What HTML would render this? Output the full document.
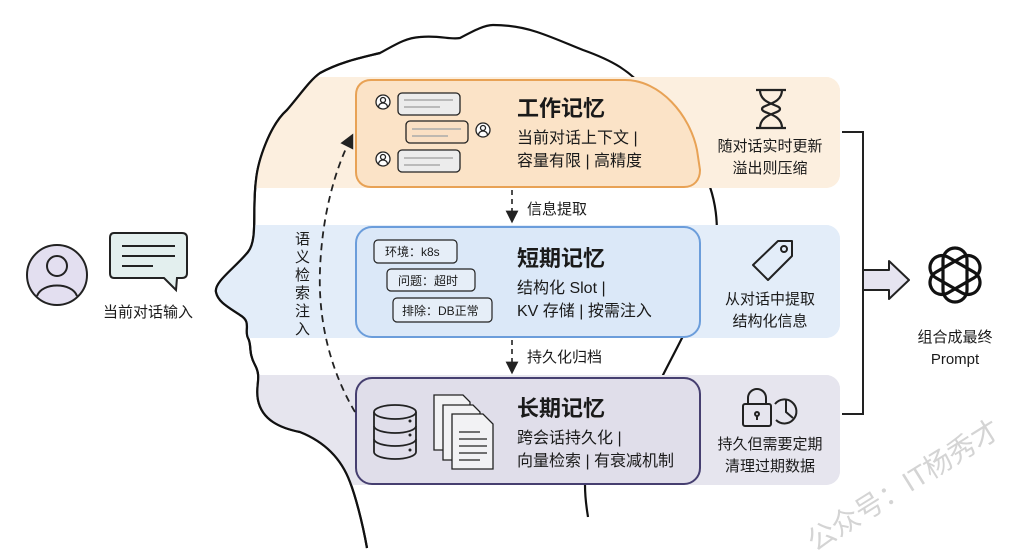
<!DOCTYPE html>
<html><head><meta charset="utf-8"><style>
html,body{margin:0;padding:0;background:#fff;}
svg{display:block;}
text{font-family:"Liberation Sans","Noto Sans CJK SC",sans-serif;fill:#1a1a1a;}
</style></head><body>
<svg width="1024" height="559" viewBox="0 0 1024 559" xmlns="http://www.w3.org/2000/svg">
<defs>
<clipPath id="hc">
<path d="M367,548 C362,520 355,495 350,482 C340,455 320,440 300,432 C280,428 262,420 258,400 C255,385 262,378 255,365 C248,352 252,345 248,338 C244,330 252,322 240,315 C228,307 218,302 216,292 C214,282 235,268 248,252 C258,240 252,210 256,180 C258,160 270,125 287,110 C300,95 310,80 320,73 C340,62 360,58 380,53 C395,45 405,38 420,37 C440,35 450,40 460,38 C475,30 485,25 493,25 C510,25 525,28 537,32 C555,38 570,45 583,50 C600,56 612,62 620,67 C640,80 650,95 653,100 C665,112 680,122 687,133 C700,150 708,170 710,187 C716,205 717,220 717,230 L717,560 L367,560 Z"/>
<rect x="380" y="0" width="480" height="559"/>
</clipPath>
<marker id="ah" markerWidth="8" markerHeight="8" refX="4" refY="4" orient="auto"><path d="M0,0 L8,4 L0,8 Z" fill="#222"/></marker>
</defs>

<!-- head outline (under bands) -->
<path d="M367,548 C362,520 355,495 350,482 C340,455 320,440 300,432 C280,428 262,420 258,400 C255,385 262,378 255,365 C248,352 252,345 248,338 C244,330 252,322 240,315 C228,307 218,302 216,292 C214,282 235,268 248,252 C258,240 252,210 256,180 C258,160 270,125 287,110 C300,95 310,80 320,73 C340,62 360,58 380,53 C395,45 405,38 420,37 C440,35 450,40 460,38 C475,30 485,25 493,25 C510,25 525,28 537,32 C555,38 570,45 583,50 C600,56 612,62 620,67 C640,80 650,95 653,100 C665,112 680,122 687,133 C700,150 708,170 710,187 C716,205 717,220 717,235 C716,270 700,310 682,338 C675,352 668,365 662,377" fill="none" stroke="#111" stroke-width="2.2"/>
<path d="M585,485 C585,500 587,510 588,517" fill="none" stroke="#111" stroke-width="2.2"/>

<!-- bands -->
<g clip-path="url(#hc)">
<rect x="200" y="77" width="640" height="111" rx="14" fill="#fcefdf"/>
<rect x="200" y="225" width="640" height="113" rx="14" fill="#e3edf9"/>
<rect x="200" y="375" width="640" height="110" rx="14" fill="#e6e5ee"/>
</g>
<rect x="700" y="77" width="140" height="111" rx="14" fill="#fcefdf"/>
<rect x="700" y="225" width="140" height="113" rx="14" fill="#e3edf9"/>
<rect x="700" y="375" width="140" height="110" rx="14" fill="#e6e5ee"/>

<!-- left outline redrawn over bands -->
<path d="M367,548 C362,520 355,495 350,482 C340,455 320,440 300,432 C280,428 262,420 258,400 C255,385 262,378 255,365 C248,352 252,345 248,338 C244,330 252,322 240,315 C228,307 218,302 216,292 C214,282 235,268 248,252 C258,240 252,210 256,180 C258,160 270,125 287,110 C300,95 310,80 320,73 C340,62 360,58 380,53" fill="none" stroke="#111" stroke-width="2.2"/>

<!-- work memory box -->
<path d="M371,80 L625,80 C660,80 690,115 697,150 L700,170 C700,180 694,187 684,187 L371,187 C362,187 356,181 356,172 L356,95 C356,86 362,80 371,80 Z" fill="#fbe3c7" stroke="#e8a255" stroke-width="2"/>
<g stroke="#222" stroke-width="1.3" fill="none">
<circle cx="383" cy="102" r="7" fill="#fff"/><circle cx="383" cy="100" r="2.5"/><path d="M378.5,107 a4.5,4 0 0 1 9,0"/>
<circle cx="483" cy="130" r="7" fill="#fff"/><circle cx="483" cy="128" r="2.5"/><path d="M478.5,135 a4.5,4 0 0 1 9,0"/>
<circle cx="383" cy="159" r="7" fill="#fff"/><circle cx="383" cy="157" r="2.5"/><path d="M378.5,164 a4.5,4 0 0 1 9,0"/>
<rect x="398" y="93" width="62" height="22" rx="4" fill="#ececec"/>
<rect x="406" y="121" width="62" height="22" rx="4" fill="#fae0c4"/>
<rect x="398" y="150" width="62" height="22" rx="4" fill="#ececec"/>
</g>
<g stroke="#aaa" stroke-width="1.5">
<line x1="404" y1="100" x2="453" y2="100"/><line x1="404" y1="107" x2="440" y2="107"/>
<line x1="412" y1="129" x2="461" y2="129"/><line x1="412" y1="136" x2="448" y2="136"/>
<line x1="404" y1="158" x2="453" y2="158"/><line x1="404" y1="165" x2="440" y2="165"/>
</g>
<text x="517" y="116" font-size="22" font-weight="bold">工作记忆</text>
<text x="517" y="143" font-size="16">当前对话上下文 |</text>
<text x="517" y="166" font-size="16">容量有限 | 高精度</text>

<!-- short-term box -->
<rect x="356" y="227" width="344" height="110" rx="16" fill="#dbe8f8" stroke="#6b9ddb" stroke-width="2"/>
<g stroke="#222" stroke-width="1.2" fill="#e6eef8">
<rect x="374" y="240" width="83" height="23" rx="4"/>
<rect x="387" y="269" width="88" height="22" rx="4"/>
<rect x="393" y="298" width="99" height="24" rx="4"/>
</g>
<text x="385" y="256" font-size="12">环境：k8s</text>
<text x="398" y="285" font-size="12">问题：超时</text>
<text x="402" y="315" font-size="12">排除：DB正常</text>
<text x="517" y="266" font-size="22" font-weight="bold">短期记忆</text>
<text x="517" y="293" font-size="16">结构化 Slot |</text>
<text x="517" y="316" font-size="16">KV 存储 | 按需注入</text>

<!-- long-term box -->
<rect x="356" y="378" width="344" height="106" rx="16" fill="#e0deea" stroke="#463f70" stroke-width="2"/>
<g stroke="#222" stroke-width="1.8" fill="none">
<path d="M374,412 L374,452 A21,7 0 0 0 416,452 L416,412"/>
<ellipse cx="395" cy="412" rx="21" ry="7" fill="#e0deea"/>
<path d="M374,426 A21,7 0 0 0 416,426 M374,439 A21,7 0 0 0 416,439"/>
</g>
<g fill="#222"><circle cx="410" cy="421" r="1.5"/><circle cx="410" cy="435" r="1.5"/><circle cx="410" cy="450" r="1.5"/></g>
<g stroke="#222" stroke-width="1.3" fill="#f2f2f4">
<path d="M434,395 L463,395 L470,402 L470,450 L434,450 Z"/>
<path d="M443,405 L473,405 L480,412 L480,460 L443,460 Z"/>
<path d="M452,414 L483,414 L493,424 L493,469 L452,469 Z"/>
</g>
<g stroke="#222" stroke-width="1.3"><line x1="459" y1="432" x2="480" y2="432"/><line x1="459" y1="439" x2="487" y2="439"/><line x1="459" y1="446" x2="487" y2="446"/><line x1="459" y1="453" x2="487" y2="453"/><line x1="459" y1="460" x2="480" y2="460"/></g>
<text x="517" y="416" font-size="22" font-weight="bold">长期记忆</text>
<text x="517" y="443" font-size="16">跨会话持久化 |</text>
<text x="517" y="466" font-size="16">向量检索 | 有衰减机制</text>

<!-- vertical dashed arrows -->
<line x1="512" y1="190" x2="512" y2="217" stroke="#222" stroke-width="1.6" stroke-dasharray="5,4" marker-end="url(#ah)"/>
<text x="527" y="214" font-size="15">信息提取</text>
<line x1="512" y1="340" x2="512" y2="368" stroke="#222" stroke-width="1.6" stroke-dasharray="5,4" marker-end="url(#ah)"/>
<text x="527" y="362" font-size="15">持久化归档</text>

<!-- semantic retrieval curve -->
<path d="M355,412 C330,370 318,320 320,270 C322,215 335,170 350,140" fill="none" stroke="#222" stroke-width="1.8" stroke-dasharray="7,5" marker-end="url(#ah)"/>
<g font-size="15"><text x="295" y="244">语</text><text x="295" y="262">义</text><text x="295" y="280">检</text><text x="295" y="298">索</text><text x="295" y="316">注</text><text x="295" y="334">入</text></g>

<!-- right panel icons & text -->
<g stroke="#222" stroke-width="2.2" fill="none">
<line x1="756" y1="90" x2="786" y2="90"/><line x1="756" y1="128" x2="786" y2="128"/>
<path d="M760,90 C760,105 780,104 780,109 C780,114 760,113 760,128 M782,90 C782,105 762,104 762,109 C762,114 782,113 782,128"/>
</g>
<text x="770" y="151" font-size="15" text-anchor="middle">随对话实时更新</text>
<text x="770" y="173" font-size="15" text-anchor="middle">溢出则压缩</text>
<g stroke="#222" stroke-width="2" fill="none">
<path d="M778,241 L792,241 L792,256 L768,280 L753,265 L778,241 Z" stroke-linejoin="round"/>
<circle cx="784" cy="249" r="3"/>
</g>
<text x="770" y="304" font-size="15" text-anchor="middle">从对话中提取</text>
<text x="770" y="326" font-size="15" text-anchor="middle">结构化信息</text>
<g stroke="#222" stroke-width="2" fill="none">
<rect x="743" y="404" width="28" height="22" rx="2"/>
<path d="M748,404 L748,398 A9,9 0 0 1 766,398 L766,404"/>
<circle cx="757" cy="414" r="2"/><line x1="757" y1="415" x2="757" y2="420"/>
<path d="M775,404 A12,12 0 1 1 776,420"/>
<path d="M786,400 L786,412 L793,418"/>
</g>
<text x="770" y="449" font-size="15" text-anchor="middle">持久但需要定期</text>
<text x="770" y="471" font-size="15" text-anchor="middle">清理过期数据</text>

<!-- bracket -->
<path d="M842,132 L863,132 L863,414 L842,414" fill="none" stroke="#222" stroke-width="2"/>
<path d="M863,270 L889,270 L889,261 L909,280 L889,299 L889,290 L863,290 Z" fill="#e6e4f0" stroke="#222" stroke-width="2" stroke-linejoin="round"/>

<!-- logo -->
<g transform="translate(955,275)" fill="none" stroke="#111" stroke-width="3.2">
<rect x="-27" y="-12" width="54" height="24" rx="12" transform="rotate(30)"/>
<rect x="-27" y="-12" width="54" height="24" rx="12" transform="rotate(90)"/>
<rect x="-27" y="-12" width="54" height="24" rx="12" transform="rotate(150)"/>
</g>
<text x="955" y="342" font-size="15" text-anchor="middle">组合成最终</text>
<text x="955" y="364" font-size="15" text-anchor="middle">Prompt</text>

<!-- left input -->
<circle cx="57" cy="275" r="30" fill="#e3dff0" stroke="#222" stroke-width="2"/>
<circle cx="57" cy="266" r="10" fill="none" stroke="#222" stroke-width="2"/>
<path d="M37,296 C42,282 72,282 77,296" fill="none" stroke="#222" stroke-width="2"/>
<path d="M114,233 L182,233 Q187,233 187,238 L187,273 Q187,278 182,278 L177,278 L176,290 L164,278 L114,278 Q110,278 110,273 L110,238 Q110,233 114,233 Z" fill="#e3efee" stroke="#222" stroke-width="2"/>
<g stroke="#222" stroke-width="2"><line x1="122" y1="246" x2="175" y2="246"/><line x1="122" y1="256" x2="175" y2="256"/><line x1="122" y1="266" x2="153" y2="266"/></g>
<text x="148" y="317" font-size="15" text-anchor="middle">当前对话输入</text>

<!-- watermark -->
<text x="0" y="0" font-size="28" transform="translate(815,552) rotate(-32)" style="fill:#d4d4d4">公众号：IT杨秀才</text>
</svg>
</body></html>
